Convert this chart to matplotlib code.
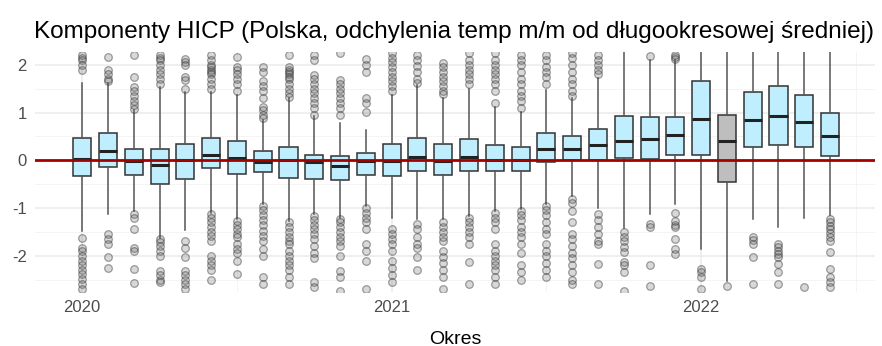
import matplotlib
matplotlib.use("Agg")
import matplotlib.pyplot as plt

plt.rcParams['font.family'] = ['Liberation Sans', 'DejaVu Sans']
plt.rcParams['axes.unicode_minus'] = False

# Months (Jan 2020 - Jun 2022)
months = ["2020-01", "2020-02", "2020-03", "2020-04", "2020-05", "2020-06",
          "2020-07", "2020-08", "2020-09", "2020-10", "2020-11", "2020-12",
          "2021-01", "2021-02", "2021-03", "2021-04", "2021-05", "2021-06",
          "2021-07", "2021-08", "2021-09", "2021-10", "2021-11", "2021-12",
          "2022-01", "2022-02", "2022-03", "2022-04", "2022-05", "2022-06"]
highlight = "2022-02"

# Box statistics
q1 = [-0.33, -0.14, -0.30, -0.49, -0.40, -0.17, -0.28, -0.24, -0.37, -0.40,
      -0.42, -0.30, -0.33, -0.23, -0.30, -0.23, -0.23, -0.23, -0.03, 0.01,
      0.01, 0.05, 0.03, 0.12, 0.12, -0.45, 0.27, 0.31, 0.27, 0.08]
med = [0.03, 0.20, -0.02, -0.09, 0.00, 0.10, 0.05, -0.03, 0.00, -0.03,
       -0.125, -0.01, -0.02, 0.07, -0.01, 0.07, 0.00, 0.00, 0.24, 0.24,
       0.31, 0.40, 0.44, 0.53, 0.87, 0.40, 0.85, 0.92, 0.81, 0.50]
q3 = [0.47, 0.57, 0.24, 0.24, 0.34, 0.47, 0.41, 0.19, 0.27, 0.12,
      0.08, 0.15, 0.34, 0.47, 0.34, 0.44, 0.31, 0.27, 0.57, 0.50,
      0.66, 0.93, 0.90, 0.90, 1.66, 0.95, 1.42, 1.56, 1.37, 0.99]
whis_lo = [-1.48, -1.12, -1.06, -1.62, -1.47, -1.10, -1.24, -0.92, -1.27, -1.13,
           -1.20, -0.96, -1.20, -1.24, -1.24, -1.17, -1.06, -1.03, -0.91, -0.75,
           -1.00, -1.41, -1.12, -0.92, -1.86, -2.52, -1.22, -1.40, -1.20, -1.15]
whis_hi = [1.61, 1.61, 1.06, 1.54, 1.44, 1.44, 1.37, 0.85, 1.30, 0.92,
           0.78, 0.64, 1.37, 1.58, 1.30, 1.50, 1.12, 1.02, 1.47, 1.30,
           1.72, 2.50, 2.10, 2.10, 2.50, 2.50, 2.50, 2.50, 2.50, 2.50]
outliers = [
    [2.2, 2.15, 2.1, 2.0, 1.9, -1.62, -1.83, -1.9, -2.0, -2.1, -2.2, -2.3, -2.38, -2.49, -2.59, -2.69],
    [2.17, 1.89, 1.8, 1.7, 1.65, -1.55, -1.65, -1.76, -2.03, -2.26],
    [2.2, 1.75, 1.54, 1.45, 1.35, 1.25, 1.15, 1.08, -1.13, -1.2, -1.44, -1.83, -1.9, -2.28, -2.58],
    [2.2, 2.15, 2.1, 2.0, 1.9, 1.8, 1.7, 1.6, -1.65, -1.72, -1.8, -1.9, -2.0, -2.31, -2.4, -2.5, -2.55],
    [2.13, 2.05, 2.0, 1.75, 1.68, 1.5, -1.69, -1.83, -2.03, -2.31, -2.4, -2.5, -2.6, -2.7],
    [2.2, 2.1, 2.0, 1.95, 1.9, 1.85, 1.8, 1.7, 1.6, 1.5, -1.13, -1.2, -1.3, -1.4, -1.5, -1.58, -1.7,
     -2.0, -2.1, -2.2, -2.3, -2.5],
    [2.17, 1.96, 1.9, 1.8, 1.7, 1.6, 1.45, -1.27, -1.35, -1.45, -1.55, -1.6, -1.75, -1.85, -1.95, -2.1, -2.38],
    [1.96, 1.85, 1.65, 1.55, 1.45, 1.3, 1.12, 1.05, 0.95, 0.88, -0.96, -1.05, -1.15, -1.25, -1.35, -1.48,
     -1.58, -1.7, -1.85, -2.0, -2.45, -2.6],
    [2.2, 1.96, 1.9, 1.85, 1.8, 1.75, 1.7, 1.6, 1.5, 1.4, 1.32, -1.3, -1.4, -1.5, -1.6, -1.7, -1.76,
     -1.9, -2.0, -2.1, -2.2, -2.3, -2.45, -2.6],
    [2.2, 2.1, 1.78, 1.7, 1.6, 1.5, 1.4, 1.3, 1.2, 1.1, 0.95, -1.17, -1.25, -1.35, -1.45, -1.55, -1.65,
     -1.8, -1.95, -2.05, -2.56, -2.66],
    [2.24, 1.68, 1.6, 1.5, 1.4, 1.3, 1.2, 1.1, 0.95, -1.24, -1.3, -1.4, -1.5, -1.6, -1.69, -1.79, -2.0,
     -2.31, -2.45, -2.73],
    [2.13, 2.0, 1.85, 1.3, 1.2, 1.02, -0.99, -1.1, -1.2, -1.3, -1.45, -1.76, -1.9, -2.1, -2.7],
    [2.24, 2.15, 2.05, 1.95, 1.85, 1.75, 1.65, 1.55, 1.45, -1.44, -1.55, -1.65, -1.75, -1.9, -2.1,
     -2.25, -2.4, -2.55],
    [2.2, 2.1, 1.98, 1.85, 1.7, 1.61, -1.34, -1.45, -1.6, -1.75, -1.83, -2.03, -2.3],
    [2.03, 1.95, 1.85, 1.75, 1.65, 1.55, 1.45, 1.38, -1.3, -1.4, -1.5, -1.6, -1.7, -1.9, -2.03, -2.15,
     -2.3, -2.45, -2.7],
    [2.24, 2.1, 2.0, 1.9, 1.8, 1.7, 1.6, -1.2, -1.3, -1.4, -1.5, -1.6, -1.75, -2.14, -2.6],
    [2.24, 2.1, 2.0, 1.9, 1.8, 1.7, 1.6, 1.45, 1.2, -1.1, -1.2, -1.3, -1.45, -1.76, -1.9, -2.0, -2.1,
     -2.2, -2.3, -2.45, -2.6],
    [2.2, 2.1, 2.0, 1.85, 1.7, 1.6, 1.45, 1.35, 1.25, 1.1, -1.06, -1.15, -1.25, -1.4, -1.5, -1.6, -1.75,
     -1.95, -2.2, -2.35, -2.5],
    [2.2, 2.1, 1.95, 1.85, 1.75, 1.6, -0.96, -1.05, -1.15, -1.3, -1.45, -1.55, -1.76, -1.9, -2.0,
     -2.15, -2.3, -2.45],
    [2.24, 2.15, 2.0, 1.85, 1.7, 1.6, 1.45, 1.35, -0.82, -0.9, -1.06, -1.3, -1.55, -1.65, -1.8, -1.95,
     -2.05, -2.2, -2.35, -2.5, -2.6],
    [2.2, 2.1, 2.0, 1.9, 1.8, -1.13, -1.25, -1.4, -1.55, -1.7, -1.76, -2.17, -2.6],
    [-1.51, -1.6, -1.7, -1.82, -1.93, -2.14, -2.2, -2.35, -2.73],
    [2.19, -1.34, -1.4, -2.2, -2.63],
    [2.2, 2.17, 2.13, -1.1, -1.27, -1.35, -1.4, -1.65, -1.86, -1.97],
    [-2.28, -2.35, -2.45, -2.7],
    [-2.63],
    [-1.6, -1.68, -1.76, -2.03, -2.6],
    [-1.76, -1.82, -1.9, -1.97, -2.03, -2.17, -2.35, -2.6],
    [-2.66],
    [-1.24, -1.3, -1.38, -1.45, -1.52, -1.6, -1.7, -1.93, -2.28, -2.45, -2.55, -2.66],
]

# Build stats for bxp
stats = []
for i in range(len(months)):
    stats.append({"label": months[i], "q1": q1[i], "med": med[i], "q3": q3[i],
                  "whislo": whis_lo[i], "whishi": whis_hi[i], "fliers": outliers[i]})

fig = plt.figure(figsize=(8.82, 3.46), dpi=100)
ax = fig.add_axes([0.040, 0.156, 0.952, 0.694])

pos = list(range(len(months)))
bp = ax.bxp(stats, positions=pos, widths=0.7, patch_artist=True, showcaps=False,
            boxprops=dict(edgecolor="#333333", linewidth=1.1),
            whiskerprops=dict(color="#555555", linewidth=1.1),
            medianprops=dict(color="#222222", linewidth=2.2),
            flierprops=dict(marker="o", markersize=5.5, markerfacecolor=(0.4, 0.4, 0.4, 0.25),
                            markeredgecolor=(0.2, 0.2, 0.2, 0.45), markeredgewidth=0.9))
for m, box in zip(months, bp["boxes"]):
    box.set_facecolor("#BEBEBE" if m == highlight else "#BFEFFF")

# Zero reference line
ax.axhline(0, color="#A50000", linewidth=2, zorder=5)

# Axes styling (theme_minimal look)
ax.set_xlim(-1.82, 30.74)
ax.set_ylim(-2.76, 2.27)
ax.set_xticks([0, 12, 24])
ax.set_xticklabels(["2020", "2021", "2022"])
ax.set_xticks([6, 18, 30], minor=True)
ax.set_yticks([-2, -1, 0, 1, 2])
ax.set_yticklabels(["-2", "-1", "0", "1", "2"])
ax.set_yticks([-2.5, -1.5, -0.5, 0.5, 1.5], minor=True)
ax.grid(which="major", color="#EBEBEB", linewidth=1.1, zorder=0)
ax.grid(which="minor", color="#F2F2F2", linewidth=0.6, zorder=0)
ax.set_axisbelow(True)
for s in ax.spines.values():
    s.set_visible(False)
ax.tick_params(which="both", length=0, labelsize=12, labelcolor="#4D4D4D")
ax.tick_params(axis="x", pad=6)
ax.tick_params(axis="y", pad=6)

ax.set_xlabel("Okres", fontsize=14, labelpad=11)
ax.set_title("Komponenty HICP (Polska, odchylenia temp m/m od długookresowej średniej)",
             fontsize=17.5, loc="left", x=-0.002, pad=10)

fig.savefig("out.png", dpi=100)
